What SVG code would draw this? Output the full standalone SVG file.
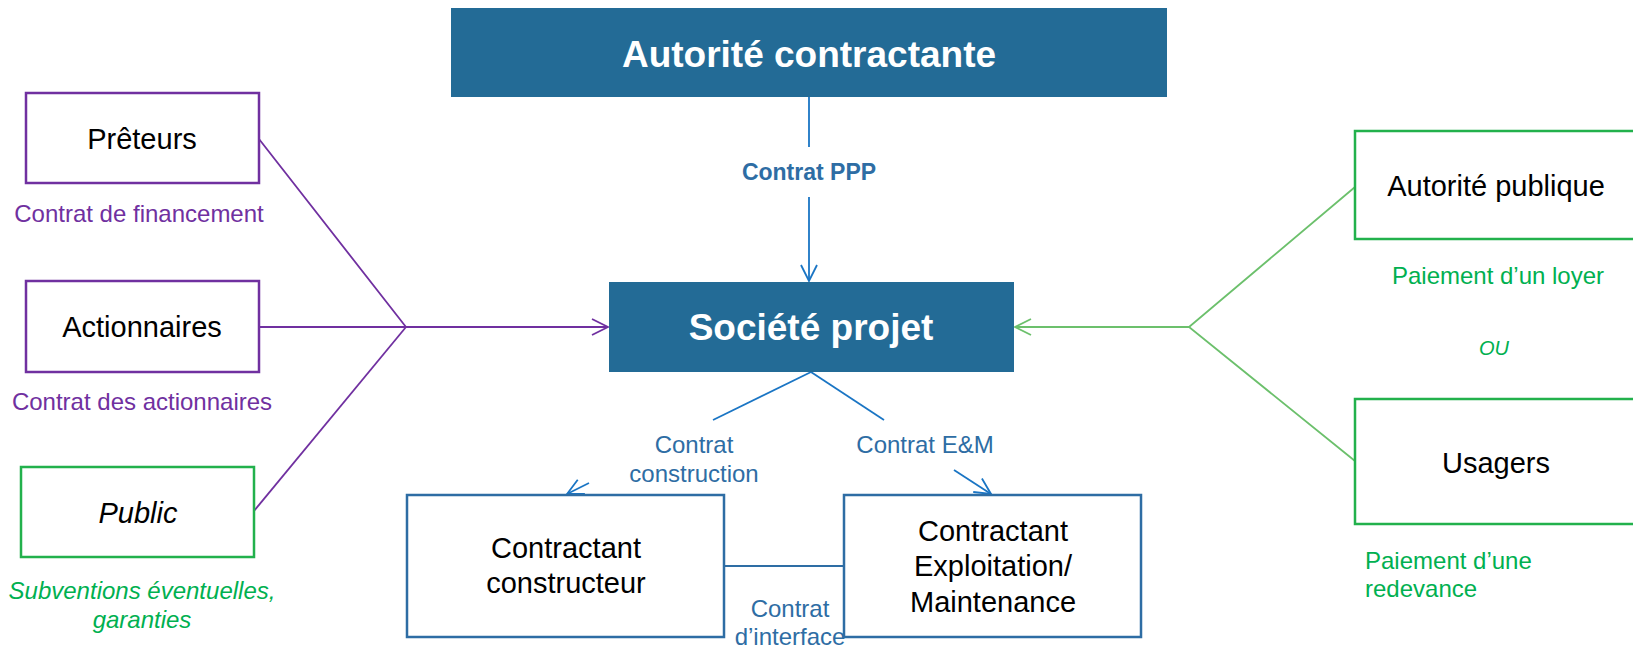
<svg xmlns="http://www.w3.org/2000/svg" width="1633" height="648" viewBox="0 0 1633 648">
<defs>
<style>
text{font-family:"Liberation Sans",Arial,sans-serif;text-anchor:middle}
.hdr{fill:#236B96}
.hdrt{fill:#fff;font-weight:bold;font-size:37px}
.node{fill:#fff;stroke-width:2.5}
.pur{stroke:#7030A0}
.grn{stroke:#22B14C}
.blu{stroke:#2E6DA4}
.nt{fill:#000;font-size:29px}
.lbl{font-size:24px}
.lp{fill:#7030A0}
.lg{fill:#00B050}
.lb{fill:#2E6DA4}
.c{fill:none;stroke-width:1.8}
.cp{stroke:#7030A0}
.cg{stroke:#6CC06C}
.cb{stroke:#1A75C4}
</style>
<marker id="ap" viewBox="0 0 18 18" refX="17" refY="9" markerWidth="18" markerHeight="18" markerUnits="userSpaceOnUse" orient="auto"><path d="M1,1 L17,9 L1,17" fill="none" stroke="#7030A0" stroke-width="1.8"/></marker>
<marker id="ag" viewBox="0 0 18 18" refX="17" refY="9" markerWidth="18" markerHeight="18" markerUnits="userSpaceOnUse" orient="auto"><path d="M1,1 L17,9 L1,17" fill="none" stroke="#6CC06C" stroke-width="1.8"/></marker>
<marker id="ab" viewBox="0 0 18 18" refX="17" refY="9" markerWidth="18" markerHeight="18" markerUnits="userSpaceOnUse" orient="auto"><path d="M1,1 L17,9 L1,17" fill="none" stroke="#1A75C4" stroke-width="1.8"/></marker>
</defs>
<rect width="1633" height="648" fill="#fff"/>

<g id="connectors">
<line class="c cb" x1="809" y1="97" x2="809" y2="147"/>
<line class="c cb" x1="809" y1="197" x2="809" y2="281" marker-end="url(#ab)"/>
<polyline class="c cp" points="259,139 406,327 259,327"/>
<line class="c cp" x1="406" y1="327" x2="254" y2="511"/>
<line class="c cp" x1="406" y1="327" x2="608" y2="327" marker-end="url(#ap)"/>
<polyline class="c cg" points="1355,187 1189,327 1355,461"/>
<line class="c cg" x1="1189" y1="327" x2="1015" y2="327" marker-end="url(#ag)"/>
<line class="c cb" x1="811" y1="372" x2="713" y2="420"/>
<line class="c cb" x1="811" y1="372" x2="884" y2="420"/>
<line class="c cb" x1="589" y1="483" x2="567" y2="494" marker-end="url(#ab)"/>
<line class="c cb" x1="954" y1="470" x2="991" y2="494" marker-end="url(#ab)"/>
<line class="c" stroke="#2E6DA4" x1="724" y1="566" x2="844" y2="566"/>
<text class="lbl lb" x="809" y="180" style="font-weight:bold;font-size:23px">Contrat PPP</text>
<text class="lbl lp" x="139" y="222">Contrat de financement</text>
<text class="lbl lp" x="142" y="410">Contrat des actionnaires</text>
<text class="lbl lg" x="142" y="599" font-style="italic">Subventions éventuelles,</text>
<text class="lbl lg" x="142" y="628" font-style="italic">garanties</text>
<text class="lbl lb" x="694" y="453">Contrat</text>
<text class="lbl lb" x="694" y="482">construction</text>
<text class="lbl lb" x="925" y="453">Contrat E&amp;M</text>
<text class="lbl lb" x="790" y="617">Contrat</text>
<text class="lbl lb" x="790" y="645">d’interface</text>
<text class="lbl lg" x="1498" y="284">Paiement d’un loyer</text>
<text class="lg" x="1494" y="355" font-size="20" font-style="italic">OU</text>
<text class="lbl lg" x="1365" y="569" style="text-anchor:start">Paiement d’une</text>
<text class="lbl lg" x="1365" y="597" style="text-anchor:start">redevance</text>
</g>

<g id="autorite-contractante">
<rect class="hdr" x="451" y="8" width="716" height="89"/>
<text class="hdrt" x="809" y="67">Autorité contractante</text>
</g>
<g id="societe-projet">
<rect class="hdr" x="609" y="282" width="405" height="90"/>
<text class="hdrt" x="811" y="340">Société projet</text>
</g>
<g id="preteurs">
<rect class="node pur" x="26" y="93" width="233" height="90"/>
<text class="nt" x="142" y="149">Prêteurs</text>
</g>
<g id="actionnaires">
<rect class="node pur" x="26" y="281" width="233" height="91"/>
<text class="nt" x="142" y="337">Actionnaires</text>
</g>
<g id="public">
<rect class="node grn" x="21" y="467" width="233" height="90"/>
<text class="nt" x="138" y="523" font-style="italic">Public</text>
</g>
<g id="contractant-constructeur">
<rect class="node blu" x="407" y="495" width="317" height="142"/>
<text class="nt" x="566" y="558">Contractant</text>
<text class="nt" x="566" y="593">constructeur</text>
</g>
<g id="contractant-exploitation">
<rect class="node blu" x="844" y="495" width="297" height="142"/>
<text class="nt" x="993" y="541">Contractant</text>
<text class="nt" x="993" y="576">Exploitation/</text>
<text class="nt" x="993" y="612">Maintenance</text>
</g>
<g id="autorite-publique">
<rect class="node grn" x="1355" y="131" width="290" height="108"/>
<text class="nt" x="1496" y="196">Autorité publique</text>
</g>
<g id="usagers">
<rect class="node grn" x="1355" y="399" width="290" height="125"/>
<text class="nt" x="1496" y="473">Usagers</text>
</g>
</svg>
